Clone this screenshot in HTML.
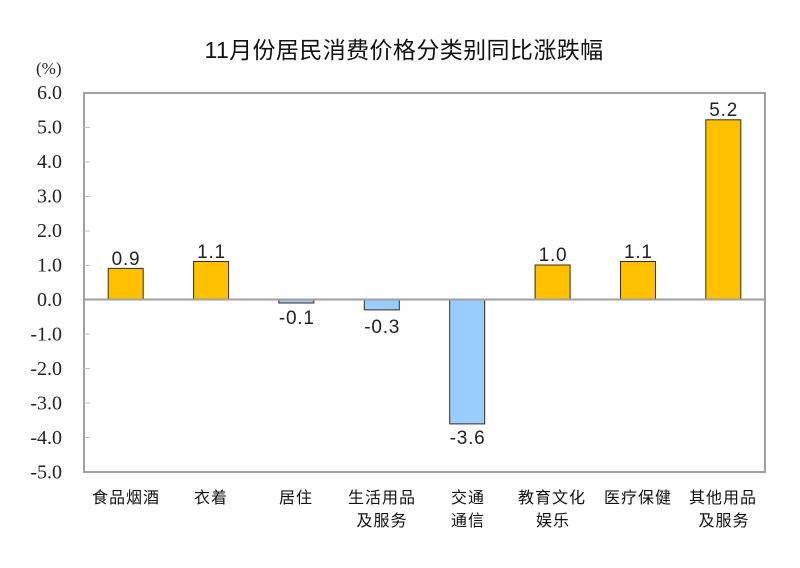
<!DOCTYPE html>
<html>
<head>
<meta charset="utf-8">
<style>
html,body{margin:0;padding:0;background:#fff;}
svg{display:block;}
.yl{font-family:"Liberation Serif","Noto Serif CJK SC",serif;font-size:20px;fill:#222;text-anchor:end;}
.dl{font-family:"Liberation Sans","Noto Sans CJK SC",sans-serif;font-size:19px;fill:#222;text-anchor:middle;letter-spacing:0.8px;}
.cl{font-family:"Liberation Sans","Noto Sans CJK SC",sans-serif;font-size:16px;fill:#111;text-anchor:middle;letter-spacing:1px;}
.tt{font-family:"Liberation Sans","Noto Sans CJK SC",sans-serif;font-size:23px;fill:#111;text-anchor:middle;letter-spacing:0.4px;}
</style>
</head>
<body>
<svg width="800" height="568" viewBox="0 0 800 568" xmlns="http://www.w3.org/2000/svg">
<rect x="0" y="0" width="800" height="568" fill="#fff"/>
<text class="tt" x="404" y="58">11月份居民消费价格分类别同比涨跌幅</text>
<text x="36" y="74" style="font-family:'Liberation Serif',serif;font-size:17px;fill:#222;">(%)</text>

<!-- plot frame -->
<rect x="84" y="93" width="681" height="379" fill="none" stroke="#a0a0a0" stroke-width="2"/>

<!-- ticks -->
<g stroke="#c0c0c0" stroke-width="1">
<line x1="84" y1="127.5" x2="90" y2="127.5"/>
<line x1="84" y1="162" x2="90" y2="162"/>
<line x1="84" y1="196.5" x2="90" y2="196.5"/>
<line x1="84" y1="231" x2="90" y2="231"/>
<line x1="84" y1="265.5" x2="90" y2="265.5"/>
<line x1="84" y1="334" x2="90" y2="334"/>
<line x1="84" y1="368.5" x2="90" y2="368.5"/>
<line x1="84" y1="403" x2="90" y2="403"/>
<line x1="84" y1="437.5" x2="90" y2="437.5"/>
</g>

<!-- y labels -->
<text class="yl" x="62" y="99">6.0</text>
<text class="yl" x="62" y="133.5">5.0</text>
<text class="yl" x="62" y="168">4.0</text>
<text class="yl" x="62" y="202.5">3.0</text>
<text class="yl" x="62" y="237">2.0</text>
<text class="yl" x="62" y="271.5">1.0</text>
<text class="yl" x="62" y="306">0.0</text>
<text class="yl" x="62" y="340.5">-1.0</text>
<text class="yl" x="62" y="375">-2.0</text>
<text class="yl" x="62" y="409.5">-3.0</text>
<text class="yl" x="62" y="444">-4.0</text>
<text class="yl" x="62" y="478.5">-5.0</text>

<!-- bars -->
<g stroke="#3b2e10" stroke-width="1">
<rect x="108.2" y="268.4" width="35" height="31.1" fill="#FFC000"/>
<rect x="193.6" y="261.5" width="35" height="38" fill="#FFC000"/>
<rect x="278.9" y="299.5" width="35" height="3.5" fill="#99CCFF"/>
<rect x="364.3" y="299.5" width="35" height="10.4" fill="#99CCFF"/>
<rect x="449.7" y="299.5" width="35" height="124.4" fill="#99CCFF"/>
<rect x="535.1" y="265" width="35" height="34.5" fill="#FFC000"/>
<rect x="620.5" y="261.5" width="35" height="38" fill="#FFC000"/>
<rect x="705.8" y="119.8" width="35" height="179.7" fill="#FFC000"/>
</g>

<!-- zero line -->
<line x1="84" y1="299.5" x2="765" y2="299.5" stroke="#a0a0a0" stroke-width="2"/>

<!-- data labels -->
<text class="dl" x="126" y="265">0.9</text>
<text class="dl" x="211.5" y="258">1.1</text>
<text class="dl" x="296.8" y="324">-0.1</text>
<text class="dl" x="382.2" y="333">-0.3</text>
<text class="dl" x="467.6" y="444">-3.6</text>
<text class="dl" x="553" y="261">1.0</text>
<text class="dl" x="638.4" y="258">1.1</text>
<text class="dl" x="723.7" y="116">5.2</text>

<!-- category labels -->
<text class="cl" x="126" y="503">食品烟酒</text>
<text class="cl" x="211" y="503">衣着</text>
<text class="cl" x="296" y="503">居住</text>
<text class="cl" x="382" y="503">生活用品</text>
<text class="cl" x="382" y="526">及服务</text>
<text class="cl" x="468" y="503">交通</text>
<text class="cl" x="468" y="526">通信</text>
<text class="cl" x="552" y="503">教育文化</text>
<text class="cl" x="553" y="526">娱乐</text>
<text class="cl" x="638" y="503">医疗保健</text>
<text class="cl" x="723" y="503">其他用品</text>
<text class="cl" x="724" y="526">及服务</text>
</svg>
</body>
</html>
